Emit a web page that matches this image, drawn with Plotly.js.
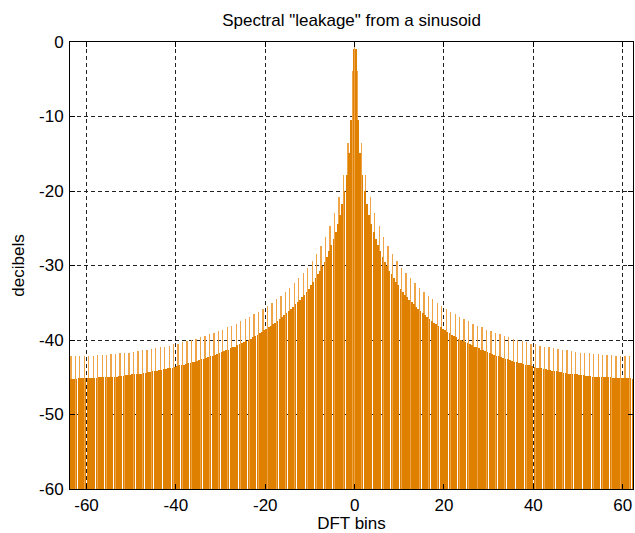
<!DOCTYPE html>
<html>
<head>
<meta charset="utf-8">
<script src="https://cdn.plot.ly/plotly-3.0.1.min.js"></script>
<style>
html,body{margin:0;padding:0;background:#fff;overflow:hidden}
#chart{width:635px;height:533px}
#chart .scatterlayer path.js-line{shape-rendering:crispEdges !important}
</style>
</head>
<body>
<div id="chart"></div>
<script>
// DFT bin index k for k = -64 .. 63 (each bin holds samples at k+0.25, k+0.5, k+0.75)
const bins = [];
for (let k = -64; k <= 63; k++) bins.push(k);

// level (dB) of the sample a quarter bin after each bin, k = -64 .. 63
const quarterDb = [
 -45.2,-45.2,-45.1,-45.1,-45.1,-45.1,-45.1,-45.0,-45.0,-44.9,
 -44.9,-44.8,-44.8,-44.7,-44.6,-44.5,-44.5,-44.4,-44.3,-44.2,
 -44.0,-43.9,-43.8,-43.7,-43.5,-43.4,-43.2,-43.1,-42.9,-42.7,
 -42.5,-42.3,-42.1,-41.9,-41.6,-41.4,-41.1,-40.9,-40.6,-40.3,
 -40.0,-39.6,-39.3,-38.9,-38.5,-38.1,-37.7,-37.2,-36.7,-36.1,
 -35.6,-34.9,-34.2,-33.5,-32.6,-31.7,-30.7,-29.5,-28.1,-26.5,
 -24.4,-21.7,-17.8,-10.5,
 -0.9,-14.9,-20.0,-23.2,-25.5,-27.3,-28.8,-30.1,-31.2,-32.2,
 -33.1,-33.9,-34.6,-35.2,-35.9,-36.4,-36.9,-37.4,-37.9,-38.3,
 -38.7,-39.1,-39.5,-39.8,-40.1,-40.4,-40.7,-41.0,-41.3,-41.5,
 -41.8,-42.0,-42.2,-42.4,-42.6,-42.8,-43.0,-43.1,-43.3,-43.4,
 -43.6,-43.7,-43.9,-44.0,-44.1,-44.2,-44.3,-44.4,-44.5,-44.6,
 -44.7,-44.7,-44.8,-44.9,-44.9,-45.0,-45.0,-45.0,-45.1,-45.1,
 -45.1,-45.1,-45.2,-45.2
];

// level (dB) of the sample half a bin after each bin (sidelobe peaks)
const halfDb = [
 -42.1,-42.1,-42.1,-42.1,-42.1,-42.1,-42.0,-42.0,-42.0,-41.9,
 -41.9,-41.8,-41.7,-41.7,-41.6,-41.5,-41.4,-41.3,-41.2,-41.1,
 -41.0,-40.9,-40.8,-40.6,-40.5,-40.3,-40.2,-40.0,-39.8,-39.6,
 -39.4,-39.2,-39.0,-38.8,-38.6,-38.3,-38.1,-37.8,-37.5,-37.2,
 -36.9,-36.5,-36.2,-35.8,-35.4,-35.0,-34.5,-34.1,-33.5,-33.0,
 -32.4,-31.7,-31.0,-30.3,-29.4,-28.5,-27.4,-26.2,-24.7,-23.0,
 -20.8,-17.9,-13.5,-3.9,
 -3.9,-13.5,-17.9,-20.8,-23.0,-24.7,-26.2,-27.4,-28.5,-29.4,
 -30.3,-31.0,-31.7,-32.4,-33.0,-33.5,-34.1,-34.5,-35.0,-35.4,
 -35.8,-36.2,-36.5,-36.9,-37.2,-37.5,-37.8,-38.1,-38.3,-38.6,
 -38.8,-39.0,-39.2,-39.4,-39.6,-39.8,-40.0,-40.2,-40.3,-40.5,
 -40.6,-40.8,-40.9,-41.0,-41.1,-41.2,-41.3,-41.4,-41.5,-41.6,
 -41.7,-41.7,-41.8,-41.9,-41.9,-42.0,-42.0,-42.0,-42.1,-42.1,
 -42.1,-42.1,-42.1,-42.1
];

// level (dB) of the sample three quarters of a bin after each bin
const threeQuarterDb = [
 -45.2,-45.2,-45.1,-45.1,-45.1,-45.1,-45.0,-45.0,-45.0,-44.9,
 -44.9,-44.8,-44.7,-44.7,-44.6,-44.5,-44.4,-44.3,-44.2,-44.1,
 -44.0,-43.9,-43.7,-43.6,-43.4,-43.3,-43.1,-43.0,-42.8,-42.6,
 -42.4,-42.2,-42.0,-41.8,-41.5,-41.3,-41.0,-40.7,-40.4,-40.1,
 -39.8,-39.5,-39.1,-38.7,-38.3,-37.9,-37.4,-36.9,-36.4,-35.9,
 -35.2,-34.6,-33.9,-33.1,-32.2,-31.2,-30.1,-28.8,-27.3,-25.5,
 -23.2,-20.0,-14.9,-0.9,
 -10.5,-17.8,-21.7,-24.4,-26.5,-28.1,-29.5,-30.7,-31.7,-32.6,
 -33.5,-34.2,-34.9,-35.6,-36.1,-36.7,-37.2,-37.7,-38.1,-38.5,
 -38.9,-39.3,-39.6,-40.0,-40.3,-40.6,-40.9,-41.1,-41.4,-41.6,
 -41.9,-42.1,-42.3,-42.5,-42.7,-42.9,-43.1,-43.2,-43.4,-43.5,
 -43.7,-43.8,-43.9,-44.0,-44.2,-44.3,-44.4,-44.5,-44.5,-44.6,
 -44.7,-44.8,-44.8,-44.9,-44.9,-45.0,-45.0,-45.1,-45.1,-45.1,
 -45.1,-45.1,-45.2,-45.2
];

// the only non-empty on-bin sample: the sinusoid itself at bin 0
const onBin = [0];
const onBinDb = [0];

const floorDb = -60;
const xTicks = [-60, -40, -20, 0, 20, 40, 60];
const xTickText = ['-60', '-40', '-20', '0', '20', '40', '60'];
const yTicks = [-60, -50, -40, -30, -20, -10, 0];
const yTickText = ['-60', '-50', '-40', '-30', '-20', '-10', '0'];

function stems(xs, ys) {
  const x = [], y = [];
  for (let i = 0; i < xs.length; i++) {
    if (ys[i] === null || ys[i] === undefined) continue;
    x.push(xs[i], xs[i], null);
    y.push(floorDb, ys[i], null);
  }
  return {x, y};
}

const halfX = bins.map(k => k + 0.5);
const quarterX = bins.map(k => k + 0.25);
const threeQX = bins.map(k => k + 0.75);

const light = stems(halfX.concat(onBin), halfDb.concat(onBinDb));
const darkA = stems(quarterX, quarterDb);
const darkB = stems(threeQX, threeQuarterDb);

const traces = [
  {type: 'scatter', mode: 'lines', x: light.x, y: light.y, connectgaps: false,
   line: {color: '#F0A448', width: 1.3}, hoverinfo: 'skip'},
  {type: 'scatter', mode: 'lines', x: darkA.x.concat(darkB.x), y: darkA.y.concat(darkB.y),
   connectgaps: false, line: {color: '#E08000', width: 1.8}, hoverinfo: 'skip'}
];

const FONT = '"Liberation Sans", Arial, Helvetica, sans-serif';

const axisCommon = {
  ticks: 'inside', ticklen: 5, tickcolor: '#000', tickwidth: 1,
  showline: true, linecolor: '#000', linewidth: 1, mirror: 'ticks',
  showgrid: true, gridcolor: '#222', gridwidth: 1, griddash: '4px,3px',
  zeroline: false, automargin: false,
  tickfont: {family: FONT, size: 17, color: '#000'}
};

const layout = {
  width: 635, height: 533,
  margin: {l: 70, r: 2, t: 42, b: 44, pad: 0},
  paper_bgcolor: '#fff', plot_bgcolor: '#fff',
  showlegend: false,
  font: {family: FONT, size: 17, color: '#000'},
  title: {text: 'Spectral "leakage" from a sinusoid', x: 0.5, xref: 'paper',
          y: 1 - 20 / 533, yref: 'container', yanchor: 'middle',
          font: {family: FONT, size: 17, color: '#000'}},
  xaxis: Object.assign({}, axisCommon, {
    range: [-63.7, 62.3], tickvals: xTicks, ticktext: xTickText,
    ticklabelstandoff: 1,
    title: {text: 'DFT bins', standoff: 5, font: {family: FONT, size: 17, color: '#000'}}
  }),
  yaxis: Object.assign({}, axisCommon, {
    range: [-60, 0], tickvals: yTicks, ticktext: yTickText,
    ticklabelstandoff: 2,
    title: {text: 'decibels', standoff: 10, font: {family: FONT, size: 17, color: '#000'}}
  })
};

Plotly.newPlot('chart', traces, layout, {staticPlot: true, displayModeBar: false});
</script>
</body>
</html>
